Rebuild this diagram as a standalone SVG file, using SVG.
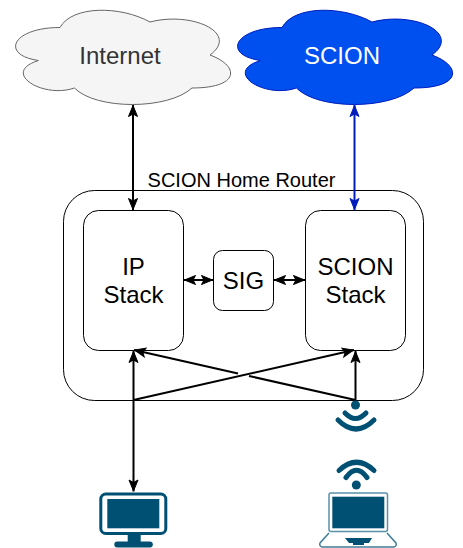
<svg xmlns="http://www.w3.org/2000/svg" width="463" height="548" viewBox="0 0 463 548">
<style>
text{font-family:"Liberation Sans",Arial,sans-serif;text-anchor:middle}
.n{fill:#fff;stroke:#000;stroke-width:1}
.t{font-size:24px;fill:#000}
.c{fill:none;stroke:#000;stroke-width:2}
.i{fill:#005073}
.w{fill:none;stroke:#005073;stroke-width:5;stroke-linecap:round}
</style>
<defs>
<path id="cloud" d="M60 27.500C12 27.500 0 55 38.400 60.500C0 72.600 43.200 99 74.400 88C96 110 168 110 192 88C240 88 240 66 210 55C240 33 192 11 150 22C120 5.500 72 5.500 60 27.500Z"/>
<marker id="a" viewBox="0 0 13 12" refX="12.500" refY="6" markerWidth="13" markerHeight="12" markerUnits="userSpaceOnUse" orient="auto-start-reverse"><path d="M1 1.500L12 6L1 10.500L3.500 6Z" fill="#000" stroke="#000" stroke-width="1"/></marker>
<marker id="b" viewBox="0 0 13 12" refX="12.500" refY="6" markerWidth="13" markerHeight="12" markerUnits="userSpaceOnUse" orient="auto-start-reverse"><path d="M1 1.500L12 6L1 10.500L3.500 6Z" fill="#001DBC" stroke="#001DBC" stroke-width="1"/></marker>
</defs>
<g id="internet"><use href="#cloud" x="0" y="0" fill="#f5f5f5" stroke="#666"/><text x="120" y="64" font-size="24" fill="#333">Internet</text></g>
<g id="scion"><use href="#cloud" x="222" y="0" fill="#0050ef" stroke="#001DBC"/><text x="342" y="64" font-size="24" fill="#fff">SCION</text></g>
<g id="router"><rect class="n" x="63.500" y="190.500" width="360" height="210" rx="31" ry="31"/><text x="241.500" y="187" font-size="20" fill="#000">SCION Home Router</text></g>
<g id="ip-stack"><rect class="n" x="83.500" y="210.500" width="100" height="140" rx="15" ry="15"/><text class="t" x="133.500" y="275">IP</text><text class="t" x="133.500" y="303">Stack</text></g>
<g id="scion-stack"><rect class="n" x="305.500" y="210.500" width="100" height="140" rx="15" ry="15"/><text class="t" x="355.500" y="275">SCION</text><text class="t" x="355.500" y="303">Stack</text></g>
<g id="sig"><rect class="n" x="213.500" y="250.500" width="60" height="60" rx="9" ry="9"/><text class="t" x="243.500" y="289">SIG</text></g>
<g id="connectors">
<path class="c" d="M133 105V210" marker-start="url(#a)" marker-end="url(#a)"/>
<path d="M354.500 105V210" fill="none" stroke="#001DBC" stroke-width="2" marker-start="url(#b)" marker-end="url(#b)"/>
<path class="c" d="M184 280H213" marker-start="url(#a)" marker-end="url(#a)"/>
<path class="c" d="M274 280H305" marker-start="url(#a)" marker-end="url(#a)"/>
<path class="c" d="M133.500 351V491.500" marker-start="url(#a)" marker-end="url(#a)"/>
<path class="c" d="M355.500 400V351" marker-end="url(#a)"/>
<path class="c" d="M133.500 400L354 350" marker-end="url(#a)"/>
<path class="c" d="M355.500 400L249 376M238 373.500L134 350" marker-end="url(#a)"/>
</g>
<g id="wifi">
<circle class="i" cx="355.500" cy="405" r="4.500"/>
<path class="w" d="M345 413Q355.500 424 366 413"/>
<path class="w" d="M338 420Q356 438 374 420"/>
</g>
<g id="desktop">
<rect x="100.800" y="494" width="65" height="39.500" rx="5" fill="none" stroke="#005073" stroke-width="3"/>
<rect class="i" x="107.300" y="499" width="52" height="29.300"/>
<rect class="i" x="127.700" y="534" width="13" height="8"/>
<rect class="i" x="114.300" y="541.500" width="38.500" height="6" rx="3"/>
</g>
<g id="laptop">
<circle class="i" cx="356.300" cy="485" r="4.500"/>
<path class="w" d="M346 477.500Q356.500 463 367 477.500"/>
<path class="w" d="M339 470.500Q356.500 454 374 470.500"/>
<rect x="329" y="493" width="58.500" height="38.500" rx="2" fill="none" stroke="#5a90a8" stroke-width="1.500"/>
<rect class="i" x="332.300" y="496.700" width="52" height="31.600"/>
<path d="M329 533L320 543Q319 546 322 547H394Q397 546 396 543L387 533" fill="none" stroke="#3f7c98" stroke-width="1.500"/>
<path class="i" d="M345 538H372L369 543H364V545H353V543H349Z"/>
</g>
</svg>
